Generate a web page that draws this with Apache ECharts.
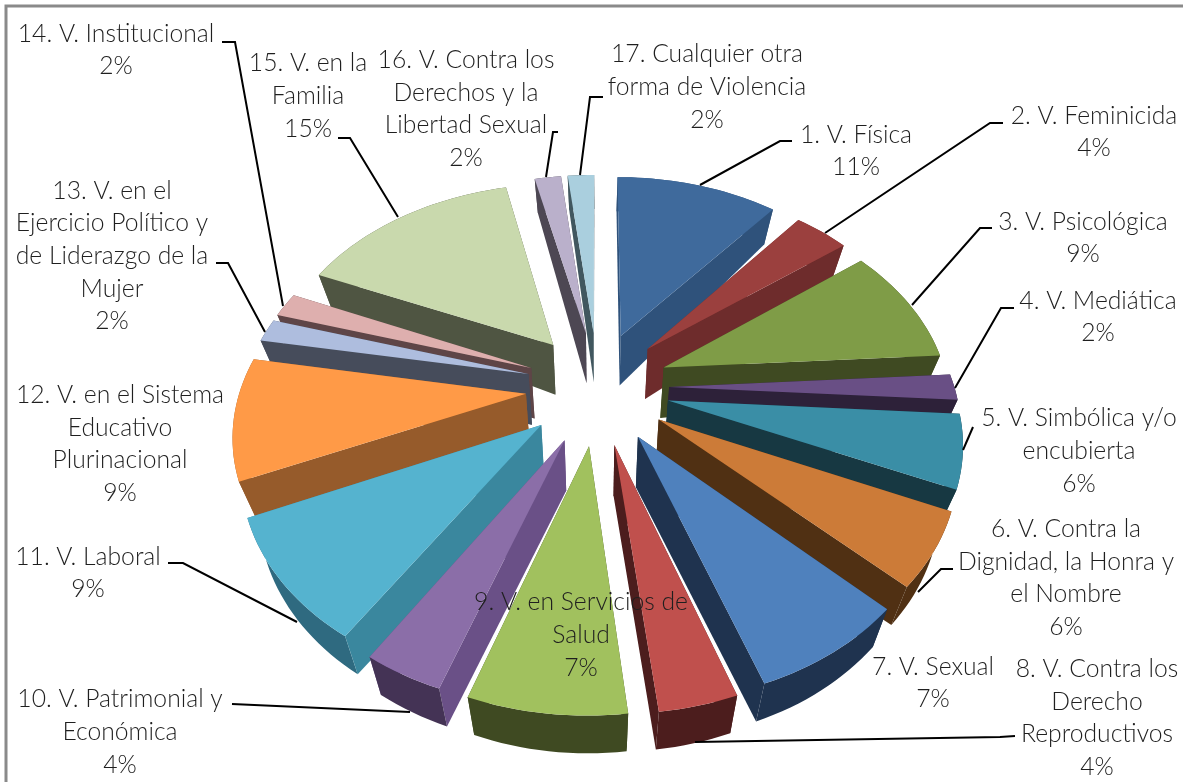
<!DOCTYPE html>
<html>
<head>
<meta charset="utf-8">
<style>
  html, body { margin: 0; padding: 0; background: #fff; }
  #chart { width: 1183px; height: 782px; }
</style>
<script src="https://cdn.jsdelivr.net/npm/echarts@6/dist/echarts.min.js"></script>
</head>
<body>
<div id="chart"></div>
<script>
// datos
var categories = [
  '1. V. Física', '2. V. Feminicida', '3. V. Psicológica', '4. V. Mediática',
  '5. V. Simbólica y/o\nencubierta', '6. V. Contra la\nDignidad, la Honra y\nel Nombre',
  '7. V. Sexual', '8. V. Contra los\nDerecho\nReproductivos', '9. V. en Servicios de\nSalud',
  '10. V. Patrimonial y\nEconómica', '11. V. Laboral', '12. V. en el Sistema\nEducativo\nPlurinacional',
  '13. V. en el\nEjercicio Político y\nde Liderazgo de la\nMujer', '14. V. Institucional',
  '15. V. en la\nFamilia', '16. V. Contra los\nDerechos y la\nLibertad Sexual',
  '17. Cualquier otra\nforma de Violencia'
];
var values = [11.0, 3.7, 9.3, 2.0, 5.6, 5.6, 7.4, 3.6, 7.2, 3.7, 9.3, 9.4, 1.8, 1.9, 14.9, 1.8, 1.8];

// colores: cara superior, pared radial, pared exterior
var topColors = ['#3F6A9C', '#9B403E', '#7F9C47', '#694F85', '#3A8EA6', '#CC7B38', '#4F81BD', '#C0504D', '#A1C15E',
  '#8B6EA8', '#55B3CF', '#FF9A47', '#AEBDDE', '#DEAFAE', '#C9D9AD', '#BAB0CB', '#AACFDE'];
var wallColors = ['#2F527B', '#6E2C2C', '#3F4A22', '#2D2139', '#173842', '#503013', '#1F334F', '#4C1D1D', '#3F4A22',
  '#6A5087', '#3A879E', '#965B2B', '#464C5B', '#5E4547', '#4F5542', '#4D4753', '#41575F'];
var rimColors = ['#2F527B', '#6E2C2C', '#3F4A22', '#2D2139', '#173842', '#503013', '#1F334F', '#4C1D1D', '#3F4A22',
  '#443355', '#2F6A80', '#965B2B', '#464C5B', '#5E4547', '#4F5542', '#4D4753', '#41575F'];

// etiquetas: centro x, centro y del bloque
var labelPos = [[856, 151], [1094, 132], [1083, 238], [1098, 317], [1079, 451], [1066, 578], [933, 683], [1097, 718],
  [581, 635], [120, 732], [88, 573], [120, 444], [112, 256], [116, 50], [308, 96], [466, 109], [707, 87]];
var leaderLines = [
  [[700, 185], [780, 141], [792, 141]],
  [[825, 233], [990, 123], [1003, 123]],
  [[912, 305], [980, 228], [992, 228]],
  [[955, 388], [1001, 308], [1014, 308]],
  [[963, 450], [973, 427]],
  [[918, 592], [941, 569], [953, 569]],
  [[695, 742], [1000, 737], [1015, 736]],
  [[410, 712], [232, 704]],
  [[297, 622], [183, 563], [168, 563]],
  [[265, 332], [228, 263], [216, 263]],
  [[283, 306], [235, 42], [222, 42]],
  [[398, 217], [350, 138], [338, 138]],
  [[546, 177], [553, 132], [558, 132]],
  [[580, 175], [590, 97], [603, 97]]
];

// proyeccion de la torta 3D
var cx = 597.5, cy = 387, scaleX = 292.5, scaleY = 206.4, persp = 0.173;
var radius = 0.975, explodeX = 0.245, explodeY = 0.275;
var total = values.reduce(function (a, b) { return a + b; }, 0);

function project(theta, r, mid, down) {
  var u = r * Math.sin(theta) + explodeX * Math.sin(mid);
  var v = r * Math.cos(theta) + explodeY * Math.cos(mid);
  var s = 1 / (1 + persp * v);
  var x = cx + scaleX * u * s;
  var y = cy - scaleY * v * s;
  if (down) {
    var dist = Math.sqrt(u * u + v * v);
    x -= (x - cx) * 0.05;
    y += 54 - 13 * dist - 3 * Math.max(v, 0);
  }
  return [x, y];
}

var slices = [];
var acc = 0;
values.forEach(function (val, i) {
  var a0 = acc / total * Math.PI * 2;
  acc += val;
  var a1 = acc / total * Math.PI * 2;
  slices.push({ index: i, a0: a0, a1: a1, mid: (a0 + a1) / 2 });
});

function wallPoly(t0, r0, t1, r1, mid, steps) {
  var top = [], bottom = [];
  for (var k = 0; k <= steps; k++) {
    var t = t0 + (t1 - t0) * k / steps;
    var r = r0 + (r1 - r0) * k / steps;
    top.push(project(t, r, mid, false));
    bottom.unshift(project(t, r, mid, true));
  }
  return top.concat(bottom);
}

function renderSlice(params, api) {
  var sl = slices[api.value(0)];
  var i = sl.index;
  var steps = Math.max(4, Math.ceil((sl.a1 - sl.a0) / 0.03));
  var walls = [
    { d: Math.cos(sl.a0), pts: wallPoly(sl.a0, 0, sl.a0, radius, sl.mid, 1), color: wallColors[i] },
    { d: Math.cos(sl.a1), pts: wallPoly(sl.a1, 0, sl.a1, radius, sl.mid, 1), color: wallColors[i] },
    { d: Math.cos(sl.mid) * 1.2, pts: wallPoly(sl.a0, radius, sl.a1, radius, sl.mid, steps), color: rimColors[i] }
  ];
  walls.sort(function (a, b) { return b.d - a.d; });
  var children = walls.map(function (w) {
    return { type: 'polygon', shape: { points: w.pts }, style: { fill: w.color } };
  });
  var face = [project(0, 0, sl.mid, false)];
  for (var k = 0; k <= steps; k++) {
    face.push(project(sl.a0 + (sl.a1 - sl.a0) * k / steps, radius, sl.mid, false));
  }
  children.push({ type: 'polygon', shape: { points: face }, style: { fill: topColors[i] } });
  return { type: 'group', children: children };
}

// se pinta de atras hacia adelante
var paintOrder = slices.slice().sort(function (a, b) { return Math.cos(b.mid) - Math.cos(a.mid); });

var graphics = [{
  type: 'polyline',
  z: 10,
  shape: { points: [[6, 782], [6, 6], [1183, 6]] },
  style: { stroke: '#8a8a8a', lineWidth: 3, fill: null }
}];
leaderLines.forEach(function (pts) {
  graphics.push({ type: 'polyline', z: 10, shape: { points: pts }, style: { stroke: '#000', lineWidth: 2, fill: null } });
});
categories.forEach(function (name, i) {
  graphics.push({
    type: 'text',
    z: 11,
    x: labelPos[i][0],
    y: labelPos[i][1],
    style: {
      text: name + '\n' + Math.round(values[i]) + '%',
      fill: '#1f1f1f',
      font: '300 24.7px Lato',
      lineHeight: 32.6,
      align: 'center',
      verticalAlign: 'middle'
    }
  });
});

var chart = echarts.init(document.getElementById('chart'));
chart.setOption({
  animation: false,
  backgroundColor: '#fff',
  series: [{
    type: 'custom',
    coordinateSystem: 'none',
    silent: true,
    renderItem: renderSlice,
    data: paintOrder.map(function (s) { return [slices.indexOf(s), values[s.index]]; })
  }],
  graphic: { elements: graphics }
});
</script>
</body>
</html>
